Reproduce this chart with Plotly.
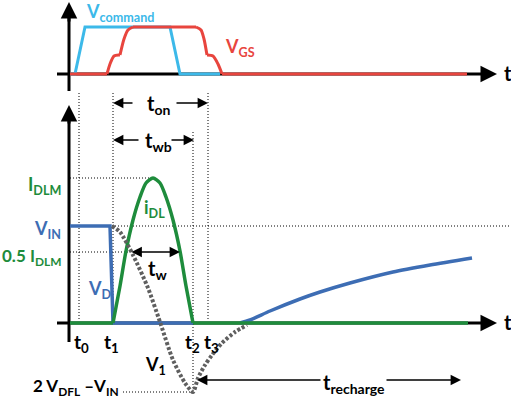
import plotly.graph_objects as go

# ---------------- data (schematic units: time ~ px, amplitude ~ px above baseline) ----
T0, T1, T2, T3 = 79, 113, 193, 208
TOP_BASE = 249           # baseline of the upper (gate) panel
VIN = 97
IDLM = 145
HALF_IDLM = 71
VMIN = -69               # 2 V_DFL - V_IN

# upper panel
vcmd_t = [70, 75, 85, 170, 180, 220]
vcmd_v = [0, 0, 47, 47, 0, 0]
vgs_flat1_t = [70, 107]
vgs_rise_t = [107, 110, 114, 119, 120]
vgs_rise_v = [0, 10, 18, 19, 19]
vgs_rise2_t = [120, 124, 128, 133]
vgs_rise2_v = [19, 35, 44, 47]
vgs_top_t = [133, 196]
vgs_fall_t = [196, 201, 204, 207]
vgs_fall_v = [47, 44, 35, 19]
vgs_fall2_t = [207, 213, 218, 222]
vgs_fall2_v = [19, 18, 10, 0]
vgs_flat2_t = [222, 467]

# lower panel
idl_t = [113, 120, 126, 133, 140, 146, 153, 160, 166, 173, 180, 186, 193]
idl_v = [0, 37, 72, 103, 126, 140, 145, 140, 126, 103, 72, 37, 0]
idl_flat1_t = [70, 113]
idl_flat2_t = [193, 468]
vd_t = [70, 110, 113, 193]
vd_v = [97, 97, 0, 0]
vd2_t = [240, 250, 270, 300, 320, 350, 393, 430, 472]
vd2_v = [0, 3, 12, 24, 31, 40, 51, 58, 65]
v1_t = [112, 120, 133, 148, 160, 173, 185, 193, 198, 205, 212, 222, 235, 247]
v1_v = [97, 91, 68, 35, 1, -37, -60, -69, -55, -42, -32, -20, -9, -2]

GREEN = "#1e8c3c"
BLUE = "#3d6db4"
CYAN = "#3cb9e9"
RED = "#e8453e"
FONT = "Lato"

fig = go.Figure()

def line(x, y, color, width, dash="solid", shape="linear"):
    fig.add_trace(go.Scatter(x=x, y=y, mode="lines", hoverinfo="skip",
                             line=dict(color=color, width=width, dash=dash,
                                       shape=shape, smoothing=0.7)))

# axes baselines
line([57, 485], [TOP_BASE, TOP_BASE], "black", 3)
line([69, 69], [TOP_BASE - 17, 310], "black", 3)
line([57, 485], [0, 0], "black", 3)
line([69, 69], [-19, 205], "black", 3)

# guide lines (thin dotted)
GD = "1px,2px"
def guide(x0, y0, x1, y1):
    line([x0, x1], [y0, y1], "black", 1, GD)

guide(T0, TOP_BASE - 19, T0, 2)
guide(T1, TOP_BASE - 19, T1, 2)
guide(T2, 191, T2, VMIN - 1)
guide(T3, TOP_BASE - 19, T3, 2)
guide(70, IDLM, 153, IDLM)
guide(112, VIN, 511, VIN)
guide(70, HALF_IDLM, 130, HALF_IDLM)
guide(123, VMIN, 193, VMIN)

# upper panel waveforms
line(vcmd_t, [TOP_BASE + v for v in vcmd_v], CYAN, 3)
tb = lambda vs: [TOP_BASE + v for v in vs]
line(vgs_flat1_t, tb([0, 0]), RED, 3)
line(vgs_rise_t, tb(vgs_rise_v), RED, 3, shape="spline")
line(vgs_rise2_t, tb(vgs_rise2_v), RED, 3, shape="spline")
line(vgs_top_t, tb([47, 47]), RED, 3)
line(vgs_fall_t, tb(vgs_fall_v), RED, 3, shape="spline")
line(vgs_fall2_t, tb(vgs_fall2_v), RED, 3, shape="spline")
line(vgs_flat2_t, tb([0, 0]), RED, 3)

# lower panel waveforms
line(vd_t, vd_v, BLUE, 3.5)
line(vd2_t, vd2_v, BLUE, 3.5, shape="spline")
line(idl_flat1_t, [0, 0], GREEN, 3.5)
line(idl_flat2_t, [0, 0], GREEN, 3.5)
line(idl_t, idl_v, GREEN, 3.5, shape="spline")
line(v1_t, v1_v, "#5f5f5f", 4, "3px,2px", shape="spline")

ann = []
def arrow(x, y, ax, ay, w=3, size=1.1, head=2, side="end"):
    ann.append(dict(x=x, y=y, ax=ax, ay=ay, xref="x", yref="y", axref="x", ayref="y",
                    showarrow=True, arrowhead=head, startarrowhead=head, arrowwidth=w,
                    arrowsize=size, startarrowsize=size, arrowside=side,
                    arrowcolor="black", text=""))

# axis arrows
arrow(497, TOP_BASE, 480, TOP_BASE)
arrow(69, 321, 69, 300)
arrow(497, 0, 480, 0)
arrow(69, 218, 69, 198)

# timing arrows
arrow(113, 220, 134, 220, w=1.6, size=1.3)
arrow(208, 220, 175, 220, w=1.6, size=1.3)
arrow(113, 183, 140, 183, w=1.6, size=1.3)
arrow(194, 183, 170, 183, w=1.6, size=1.3)
arrow(180, HALF_IDLM, 130, HALF_IDLM, w=1.6, size=1.3, side="end+start")
arrow(197, -57, 322, -57, w=1.6, size=1.3)
arrow(461, -57, 385, -57, w=1.6, size=1.3)

def label(x, y, text, color="black", size=17, xanchor="center"):
    ann.append(dict(x=x, y=y, xref="x", yref="y", text=text, showarrow=False,
                    xanchor=xanchor, yanchor="middle",
                    font=dict(family=FONT, size=size, color=color)))

def sub(main, s):
    return "<b>%s</b><sub><b>%s</b></sub>" % (main, s)

label(84, 311, sub("V", "command"), CYAN, 18, "left")
label(223, 276, sub("V", "GS"), RED, 18, "left")
label(502, TOP_BASE + 1, "<b>t</b>", "black", 20, "left")
label(502, 1, "<b>t</b>", "black", 20, "left")
label(158, 219, sub("t", "on"), "black", 20)
label(158, 182, sub("t", "wb"), "black", 20)
label(63, 138, sub("I", "DLM"), GREEN, 18, "right")
label(142, 115, sub("i", "DL"), GREEN, 18, "left")
label(63, 94, sub("V", "IN"), BLUE, 18, "right")
label(63, 66, "<b>0.5 I</b><sub><b>DLM</b></sub>", GREEN, 17, "right")
label(157, 54, sub("t", "w"), "black", 20)
label(86, 34, sub("V", "D"), BLUE, 18, "left")
label(81, -20, sub("t", "0"), "black", 19)
label(111, -20, sub("t", "1"), "black", 19)
label(192, -20, sub("t", "2"), "black", 19)
label(211, -20, sub("t", "3"), "black", 19)
label(155, -42, sub("V", "1"), "black", 18)
label(121, -64, "<b>2 V</b><sub><b>DFL</b></sub><b> –V</b><sub><b>IN</b></sub>", "black", 17, "right")
label(354, -60, sub("t", "recharge"), "black", 20)

fig.update_layout(
    width=511, height=400, margin=dict(l=0, r=0, t=0, b=0),
    paper_bgcolor="white", plot_bgcolor="white", showlegend=False,
    xaxis=dict(range=[0, 511], visible=False, fixedrange=True),
    yaxis=dict(range=[-77, 323], visible=False, fixedrange=True),
    annotations=ann,
)
fig.write_html("out.html", config={"displayModeBar": False},
               post_script="document.body.style.margin='0px';document.body.style.overflow='hidden';")
